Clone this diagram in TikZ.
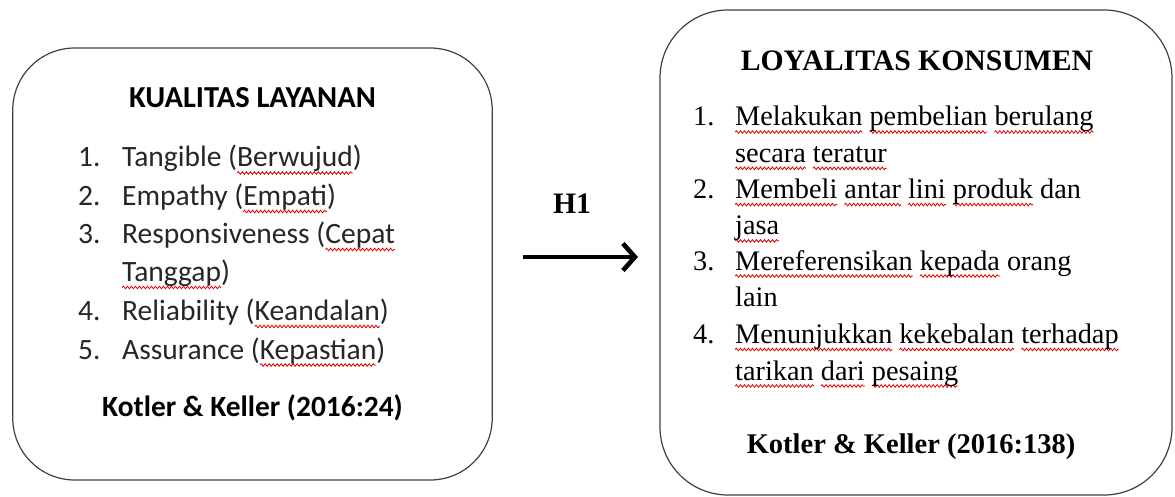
\documentclass[tikz,border=0pt]{standalone}
\usepackage{fontspec}
\usetikzlibrary{arrows.meta,decorations.pathmorphing}
\newfontfamily\carlito{Carlito}
\newfontfamily\libser{Liberation Serif}
\tikzset{
  wave/.style={red!90!black, line width=0.8pt, decorate, decoration={snake, amplitude=1.3pt, segment length=4pt}},
  box/.style={draw=black!75, line width=1.2pt, rounded corners=62pt, outer sep=0pt, inner sep=0pt},
  lt/.style={font=\carlito\fontsize{29.5}{34}\selectfont, anchor=base west, inner sep=0pt, text=black!85},
  ltb/.style={font=\carlito\bfseries\fontsize{30.5}{34}\selectfont, anchor=base, inner sep=0pt},
  lsb/.style={font=\carlito\bfseries\fontsize{29.4}{34}\selectfont, anchor=base, inner sep=0pt},
  rt/.style={font=\libser\fontsize{28.3}{34}\selectfont, anchor=base west, inner sep=0pt},
  rtb/.style={font=\libser\bfseries\fontsize{29.7}{34}\selectfont, anchor=base, inner sep=0pt},
  rsb/.style={font=\libser\bfseries\fontsize{28.5}{34}\selectfont, anchor=base, inner sep=0pt},
  conn/.style={line width=4.6pt, -{Straight Barb[length=12pt, width=27pt]}}
}
\newcommand{\sq}[1]{\setbox0\hbox{#1}\rlap{\tikz[overlay,x=1pt,y=1pt,baseline=0pt]\draw[wave] (0pt,-6pt) -- (\the\wd0,-6pt);}\box0\relax}
\begin{document}
\begin{tikzpicture}[x=1pt, y=-1pt]
\useasboundingbox (0,0) rectangle (1175,497);
\fill[white] (0,0) rectangle (1175,497);
% boxes
\node[box, minimum width=479.5pt, minimum height=432pt] (L) at (252.5,264) {};
\node[box, minimum width=512pt, minimum height=485pt, rounded corners=68pt] (R) at (916,252.5) {};
% left text
\node[ltb] (ltitle) at (252.5,108) {KUALITAS LAYANAN};
\node[lt] (ln1) at (78,167) {1.};
\node[lt] (li1) at (122,167) {Tangible (\sq{Berwujud})};
\node[lt] (ln2) at (78,205.5) {2.};
\node[lt] (li2) at (122,205.5) {Empathy (\sq{Empati})};
\node[lt] (ln3) at (78,243.5) {3.};
\node[lt] (li3) at (122,243.5) {Responsiveness (\sq{Cepat}};
\node[lt] (li3b) at (122,281.5) {\sq{Tanggap})};
\node[lt] (ln4) at (78,320.5) {4.};
\node[lt] (li4) at (122,320.5) {Reliability (\sq{Keandalan})};
\node[lt] (ln5) at (78,359) {5.};
\node[lt] (li5) at (122,359) {Assurance (\sq{Kepastian})};
\node[lsb] (lsrc) at (252.5,416) {Kotler \& Keller (2016:24)};
% right text
\node[rtb] (rtitle) at (917,71) {LOYALITAS KONSUMEN};
\node[rt] (rn1) at (693,126) {1.};
\node[rt] (ri1) at (735,126) {\sq{Melakukan} \sq{pembelian} \sq{berulang}};
\node[rt] (ri1b) at (735,162.3) {\sq{secara} \sq{teratur}};
\node[rt] (rn2) at (693,198.6) {2.};
\node[rt] (ri2) at (735,198.6) {\sq{Membeli} \sq{antar} \sq{lini} \sq{produk} dan};
\node[rt] (ri2b) at (735,234.9) {\sq{jasa}};
\node[rt] (rn3) at (693,270) {3.};
\node[rt] (ri3) at (735,270) {\sq{Mereferensikan} \sq{kepada} orang};
\node[rt] (ri3b) at (735,306.5) {lain};
\node[rt] (rn4) at (693,343.5) {4.};
\node[rt] (ri4) at (735,343.5) {\sq{Menunjukkan} \sq{kekebalan} \sq{terhadap}};
\node[rt] (ri4b) at (735,380) {\sq{tarikan} \sq{dari} \sq{pesaing}};
\node[rsb] (rsrc) at (911,453) {Kotler \& Keller (2016:138)};
% connector
\coordinate (a1) at (523,257);
\coordinate (a2) at (638,257);
\draw[conn] (a1) -- (a2);
\node[rtb] (h1) at (572,214) {H1};
\end{tikzpicture}
\end{document}
